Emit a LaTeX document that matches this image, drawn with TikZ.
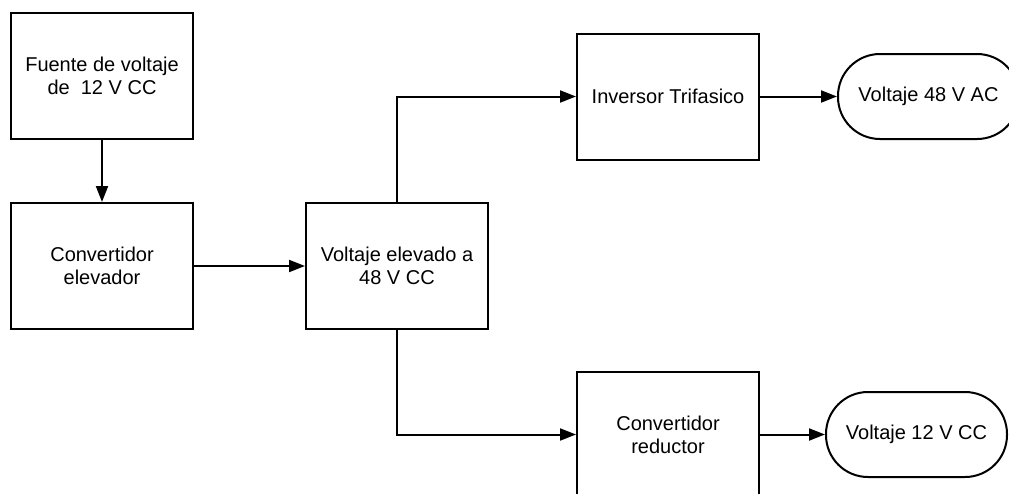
\documentclass[tikz,border=0pt]{standalone}
\usepackage{fontspec}
\setmainfont{Liberation Sans}
\usetikzlibrary{arrows.meta}
\begin{document}
\begin{tikzpicture}[x=1pt,y=-1pt,
  every node/.style={font=\fontsize{20}{23}\selectfont},
  blk/.style={draw=black,line width=2pt,fill=white,inner sep=0pt,align=center,minimum width=182pt,minimum height=126pt},
  term/.style={draw=black,line width=2pt,fill=white,inner sep=0pt,align=center,minimum width=181pt,minimum height=85pt,rounded corners=42pt},
  conn/.style={line width=2pt,-{Triangle[length=16pt,width=12pt]}}]
\useasboundingbox (0,0) rectangle (1009,493);
\clip (0,0) rectangle (1009,493);
\fill[white] (0,0) rectangle (1009,493);
\node[blk] (fuente) at (102,75.5) {Fuente de voltaje\\de~~12 V CC};
\node[blk] (elev) at (102,266) {Convertidor\\elevador};
\node[blk] (v48) at (397,266) {Voltaje elevado a\\48 V CC};
\node[blk] (inv) at (668,96.5) {Inversor Trifasico};
\node[blk] (red) at (668,434.5) {Convertidor\\reductor};
\node[term] (ac) at (928.5,96.5) {Voltaje 48 V AC};
\node[term] (cc) at (916.5,434.5) {Voltaje 12 V CC};
\draw[conn] (fuente) -- (elev);
\draw[conn] (elev) -- (v48);
\draw[conn] (v48.north) |- (inv.west);
\draw[conn] (v48.south) |- (red.west);
\draw[conn] (inv) -- (ac);
\draw[conn] (red) -- (cc);
\end{tikzpicture}
\end{document}
